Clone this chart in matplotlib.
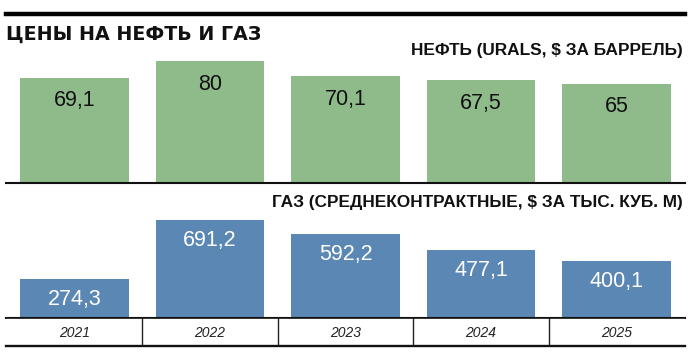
import matplotlib
matplotlib.use("Agg")
import matplotlib.pyplot as plt
from matplotlib.lines import Line2D

years = ["2021", "2022", "2023", "2024", "2025"]
oil = [69.1, 80, 70.1, 67.5, 65]
gas = [274.3, 691.2, 592.2, 477.1, 400.1]
oil_labels = ["69,1", "80", "70,1", "67,5", "65"]
gas_labels = ["274,3", "691,2", "592,2", "477,1", "400,1"]

title = "ЦЕНЫ НА НЕФТЬ И ГАЗ"
oil_title = "НЕФТЬ (URALS, $ ЗА БАРРЕЛЬ)"
gas_title = "ГАЗ (СРЕДНЕКОНТРАКТНЫЕ, $ ЗА ТЫС. КУБ. М)"

GREEN = "#8fbb8b"
BLUE = "#5b87b5"
FONT = ["Liberation Sans", "DejaVu Sans"]
plt.rcParams["font.family"] = FONT

W, H = 700, 352
fig = plt.figure(figsize=(W / 100, H / 100), dpi=100)


def px_axes(x0, y0, x1, y1):
    # pixel box (top-left origin) -> figure axes
    return fig.add_axes([x0 / W, 1 - y1 / H, (x1 - x0) / W, (y1 - y0) / H])


XL = (-0.5055, 4.5055)
xs = range(len(years))

# oil panel
ax1 = px_axes(6, 61, 685, 183)
ax1.bar(xs, oil, width=0.8, color=GREEN)
ax1.set_xlim(*XL)
ax1.set_ylim(0, max(oil))
for i, (v, lab) in enumerate(zip(oil, oil_labels)):
    ax1.annotate(lab, (i, v), xytext=(0, -9), textcoords="offset points",
                 ha="center", va="top", fontsize=15.5, color="#111111")

# gas panel
ax2 = px_axes(6, 220, 685, 318)
ax2.bar(xs, gas, width=0.8, color=BLUE)
ax2.set_xlim(*XL)
ax2.set_ylim(0, max(gas))
for i, (v, lab) in enumerate(zip(gas, gas_labels)):
    ax2.annotate(lab, (i, v), xytext=(0, -7), textcoords="offset points",
                 ha="center", va="top", fontsize=15.5, color="white")

for ax in (ax1, ax2):
    ax.set_xticks([])
    ax.set_yticks([])
    for s in ("top", "left", "right"):
        ax.spines[s].set_visible(False)
    ax.spines["bottom"].set_linewidth(1.5)
    ax.spines["bottom"].set_color("#111111")
    ax.patch.set_alpha(0)

# year row
ax3 = px_axes(6, 318, 685, 346)
ax3.set_xlim(*XL)
ax3.set_ylim(0, 1)
ax3.set_xticks([])
ax3.set_yticks([])
for s in ("left", "right"):
    ax3.spines[s].set_visible(False)
ax3.spines["top"].set_linewidth(1.2)
ax3.spines["bottom"].set_linewidth(1.7)
for s in ("top", "bottom"):
    ax3.spines[s].set_color("#111111")
for i, y in enumerate(years):
    ax3.text(i, 0.47, y, ha="center", va="center", fontsize=10,
             style="italic", color="#222222")
    if i < len(years) - 1:
        ax3.axvline(i + 0.5, color="#222222", lw=1)

# header
fig.add_artist(Line2D([6 / W, 685 / W], [1 - 13.5 / H] * 2, color="black", lw=3.2))
fig.text(6 / W, 1 - 34 / H, title, ha="left", va="center", fontsize=13.7,
         fontweight="heavy", family=["DejaVu Sans"], color="#111111")
fig.text(683 / W, 1 - 50 / H, oil_title, ha="right", va="center",
         fontsize=12.4, fontweight="bold", color="#111111")
fig.text(683 / W, 1 - 203 / H, gas_title, ha="right", va="center",
         fontsize=12.4, fontweight="bold", color="#111111")

fig.savefig("out.png", dpi=100, facecolor="white")
